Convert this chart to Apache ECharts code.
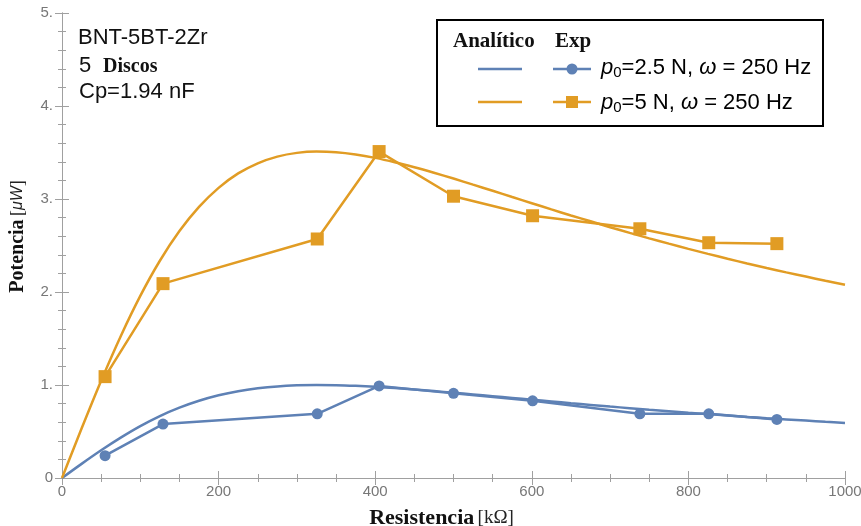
<!DOCTYPE html>
<html>
<head>
<meta charset="utf-8">
<script src="https://cdn.jsdelivr.net/npm/echarts@6/dist/echarts.min.js"></script>
<style>
html,body{margin:0;padding:0;background:#fff;}
#chart{width:861px;height:526px;}
</style>
</head>
<body>
<div id="chart"></div>
<script>
var resistExp = [55, 129, 326, 405, 500, 601, 738, 826, 913];
var expLow  = [0.24, 0.58, 0.69, 0.99, 0.91, 0.83, 0.69, 0.69, 0.63];   // p0=2.5 N
var expHigh = [1.09, 2.09, 2.57, 3.51, 3.03, 2.82, 2.68, 2.53, 2.52];  // p0=5 N

var resistAna = [0, 25, 50, 75, 100, 125, 150, 175, 200, 225, 250, 275, 300, 325, 350, 375, 400, 425, 450, 475, 500,
                 525, 550, 575, 600, 625, 650, 675, 700, 725, 750, 775, 800, 825, 850, 875, 900, 925, 950, 975, 1000];
var anaLow  = [0, 0.152, 0.298, 0.434, 0.558, 0.666, 0.756, 0.830, 0.889, 0.933, 0.964, 0.985, 0.996, 1.000, 0.998, 0.991, 0.981, 0.967, 0.952, 0.935, 0.917,
               0.899, 0.880, 0.861, 0.842, 0.823, 0.804, 0.786, 0.768, 0.751, 0.734, 0.718, 0.702, 0.687, 0.672, 0.657, 0.643, 0.630, 0.617, 0.604, 0.592];
var anaHigh = [0, 0.532, 1.046, 1.525, 1.958, 2.336, 2.655, 2.915, 3.120, 3.275, 3.384, 3.456, 3.496, 3.510, 3.503, 3.479, 3.442, 3.395, 3.341, 3.282, 3.220,
               3.154, 3.088, 3.021, 2.955, 2.888, 2.823, 2.760, 2.697, 2.636, 2.577, 2.520, 2.464, 2.410, 2.358, 2.307, 2.258, 2.211, 2.166, 2.121, 2.079];

var xTicks = [0, 200, 400, 600, 800, 1000];
var yTicks = ['0', '1.', '2.', '3.', '4.', '5.'];

var BLUE = '#5E81B5', ORANGE = '#E19C24';
var FRAME = '#a0a0a0';

function pairs(xs, ys){ return xs.map(function(x,i){ return [x, ys[i]]; }); }

var chart = echarts.init(document.getElementById('chart'));

function axisStyle(split){
  return {
    axisLine: {show: true, lineStyle: {color: FRAME, width: 1}},
    axisTick: {show: true, inside: true, length: 7, lineStyle: {color: FRAME}},
    minorTick: {show: true, splitNumber: split, length: 4, lineStyle: {color: FRAME}},
    splitLine: {show: false}
  };
}

var option = {
  animation: false,
  backgroundColor: '#fff',
  grid: {left: 62, right: 16, top: 13, bottom: 48, containLabel: false, outerBoundsMode: 'none'},
  xAxis: [
    Object.assign({
      type: 'value', min: 0, max: 1000, interval: 200, position: 'bottom',
      axisLabel: {color: '#777', fontSize: 15, fontFamily: 'Liberation Sans', margin: 6,
                  formatter: function(v){ return String(v); }},
      name: '{b|Resistencia} {n|[kΩ]}',
      nameLocation: 'middle', nameGap: 29,
      nameTextStyle: {padding: [0, 24, 0, 0],
        rich: {b: {fontFamily: 'Liberation Serif', fontWeight: 'bold', fontSize: 22, color: '#111'},
               n: {fontFamily: 'Liberation Serif', fontSize: 19, color: '#222'}}}
    }, axisStyle(4)),
    Object.assign({
      type: 'value', min: 0, max: 1000, interval: 200, position: 'top',
      axisLabel: {show: false}
    }, axisStyle(4))
  ],
  yAxis: [
    Object.assign({
      type: 'value', min: 0, max: 5, interval: 1, position: 'left',
      axisLabel: {color: '#777', fontSize: 15, fontFamily: 'Liberation Sans', margin: 9,
                  formatter: function(v){ return yTicks[Math.round(v)]; }},
      name: '{b|Potencia} {n|[}{i|μW}{n|]}',
      nameLocation: 'middle', nameGap: 34,
      nameTextStyle: {padding: [0, 0, 0, 18],
        rich: {b: {fontFamily: 'Liberation Serif', fontWeight: 'bold', fontSize: 20, color: '#111'},
               n: {fontFamily: 'Liberation Serif', fontSize: 18, color: '#222'},
               i: {fontFamily: 'Liberation Sans', fontStyle: 'italic', fontSize: 16, color: '#222'}}}
    }, axisStyle(5)),
    Object.assign({
      type: 'value', min: 0, max: 5, interval: 1, position: 'right',
      axisLabel: {show: false}
    }, axisStyle(5))
  ],
  series: [
    {name: 'Analítico 2.5', type: 'line', data: pairs(resistAna, anaLow), smooth: 0.3,
     showSymbol: false, lineStyle: {color: BLUE, width: 2.5}, z: 3},
    {name: 'Analítico 5', type: 'line', data: pairs(resistAna, anaHigh), smooth: 0.3,
     showSymbol: false, lineStyle: {color: ORANGE, width: 2.5}, z: 3},
    {name: 'Exp 2.5', type: 'line', data: pairs(resistExp, expLow),
     symbol: 'circle', symbolSize: 11, itemStyle: {color: BLUE},
     lineStyle: {color: BLUE, width: 2.5}, z: 4},
    {name: 'Exp 5', type: 'line', data: pairs(resistExp, expHigh),
     symbol: 'rect', symbolSize: 13, itemStyle: {color: ORANGE},
     lineStyle: {color: ORANGE, width: 2.5}, z: 4}
  ],
  graphic: [
    // annotation
    {type: 'text', x: 78, y: 38, style: {text: 'BNT-5BT-2Zr', font: '22px "Liberation Sans"', fill: '#111', verticalAlign: 'middle'}},
    {type: 'text', x: 79, y: 66, style: {text: '5', font: '22px "Liberation Sans"', fill: '#111', verticalAlign: 'middle'}},
    {type: 'text', x: 103, y: 67, style: {text: 'Discos', font: 'bold 20px "Liberation Serif"', fill: '#111', verticalAlign: 'middle'}},
    {type: 'text', x: 79, y: 92, style: {text: 'Cp=1.94 nF', font: '22px "Liberation Sans"', fill: '#111', verticalAlign: 'middle'}},
    // legend box
    {type: 'rect', shape: {x: 437, y: 20, width: 386, height: 106},
     style: {fill: '#fff', stroke: '#000', lineWidth: 2}, z: 10},
    {type: 'text', x: 453, y: 42, z: 11, style: {text: 'Analítico', font: 'bold 21px "Liberation Serif"', fill: '#111', verticalAlign: 'middle'}},
    {type: 'text', x: 555, y: 42, z: 11, style: {text: 'Exp', font: 'bold 21px "Liberation Serif"', fill: '#111', verticalAlign: 'middle'}},
    {type: 'line', z: 11, shape: {x1: 478, y1: 69, x2: 522, y2: 69}, style: {stroke: BLUE, lineWidth: 2.5}},
    {type: 'line', z: 11, shape: {x1: 553, y1: 69, x2: 591, y2: 69}, style: {stroke: BLUE, lineWidth: 2.5}},
    {type: 'circle', z: 12, shape: {cx: 572, cy: 69, r: 5.5}, style: {fill: BLUE}},
    {type: 'line', z: 11, shape: {x1: 478, y1: 102, x2: 522, y2: 102}, style: {stroke: ORANGE, lineWidth: 2.5}},
    {type: 'line', z: 11, shape: {x1: 553, y1: 102, x2: 591, y2: 102}, style: {stroke: ORANGE, lineWidth: 2.5}},
    {type: 'rect', z: 12, shape: {x: 566, y: 96, width: 12, height: 12}, style: {fill: ORANGE}},
    {type: 'text', x: 601, y: 68, z: 11, style: {
      text: '{i|p}{s|0}{t|=2.5 N, }{i|ω}{t| = 250 Hz}', verticalAlign: 'middle',
      rich: {i: {fontFamily: 'Liberation Sans', fontStyle: 'italic', fontSize: 22, color: '#111'},
             s: {fontFamily: 'Liberation Sans', fontSize: 15, color: '#111', padding: [10, 0, 0, 0]},
             t: {fontFamily: 'Liberation Sans', fontSize: 22, color: '#111'}}}},
    {type: 'text', x: 601, y: 103, z: 11, style: {
      text: '{i|p}{s|0}{t|=5 N, }{i|ω}{t| = 250 Hz}', verticalAlign: 'middle',
      rich: {i: {fontFamily: 'Liberation Sans', fontStyle: 'italic', fontSize: 22, color: '#111'},
             s: {fontFamily: 'Liberation Sans', fontSize: 15, color: '#111', padding: [10, 0, 0, 0]},
             t: {fontFamily: 'Liberation Sans', fontSize: 22, color: '#111'}}}}
  ]
};
chart.setOption(option);
</script>
</body>
</html>
